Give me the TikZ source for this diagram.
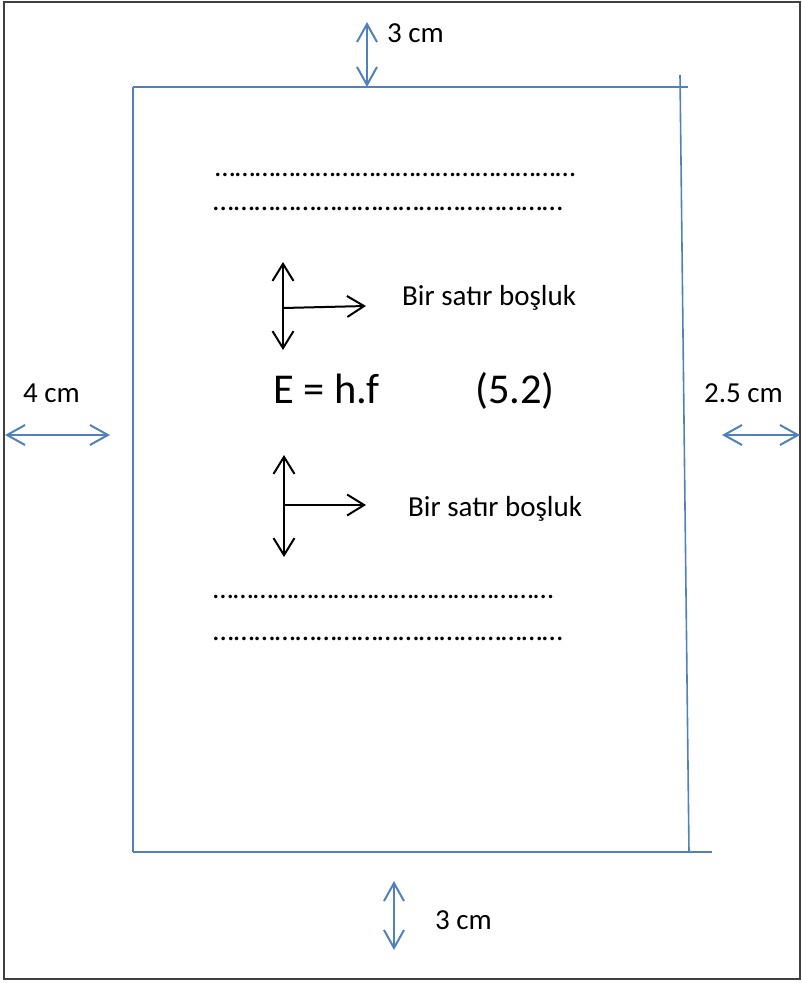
\documentclass[tikz,border=0pt]{standalone}
\usepackage{fontspec}
\setmainfont{Carlito}
\usetikzlibrary{arrows.meta}
\definecolor{wblue}{RGB}{79,129,189}
\newcommand\ellrun[1]{\foreach \k in {1,...,#1}{…}}
\tikzset{
  bluearr/.style={draw=wblue, line width=2pt, {Straight Barb[length=18pt,width=20pt,line width=2pt]}-{Straight Barb[length=18pt,width=20pt,line width=2pt]}},
  blackarr/.style={draw=black, line width=2pt, {Straight Barb[length=17pt,width=21pt,line width=2pt]}-{Straight Barb[length=17pt,width=21pt,line width=2pt]}},
  blackone/.style={draw=black, line width=2pt, -{Straight Barb[length=17pt,width=21pt,line width=2pt]}},
  pageline/.style={draw=wblue, line width=1.6pt},
  lbl/.style={anchor=base west, inner sep=0pt, font=\fontsize{29}{34}\selectfont},
  widedots/.style={lbl, font=\fontsize{29.8}{34}\selectfont},
  eqn/.style={anchor=base west, inner sep=0pt, font=\fontsize{42.5}{50}\selectfont},
}
\begin{document}
\begin{tikzpicture}[x=1pt,y=-1pt]
\useasboundingbox (0,0) rectangle (801,983);
% outer frame
\draw[line width=1.2pt, draw=black!75] (4,2) rectangle (800,979);
% page lines
\draw[pageline] (133,87) -- (688,87);
\draw[pageline] (133,87) -- (133,852);
\draw[pageline] (133,852) -- (712,852);
\draw[pageline] (680,75) -- (689,852);
% margin arrows
\coordinate (t1) at (367,22); \coordinate (t2) at (367,87);
\draw[bluearr] (t1) -- (t2);
\node[lbl] (tl) at (387,42) {3 cm};
\coordinate (b1) at (394,881); \coordinate (b2) at (394,950);
\draw[bluearr] (b1) -- (b2);
\node[lbl] (bl) at (435,929) {3 cm};
\coordinate (l1) at (5,435); \coordinate (l2) at (110,435);
\draw[bluearr] (l1) -- (l2);
\node[lbl] (ll) at (23,402) {4 cm};
\coordinate (r1) at (722,435); \coordinate (r2) at (800,435);
\draw[bluearr] (r1) -- (r2);
\node[lbl] (rl) at (704,402) {2.5 cm};
% dotted lines
\node[lbl] (d1) at (215,176) {\ellrun{18}};
\node[widedots] (d2) at (213,210) {\ellrun{17}};
\node[lbl] (d3) at (213,598) {\ellrun{17}};
\node[widedots] (d4) at (213,640) {\ellrun{17}};
% first spacing arrows
\coordinate (a1) at (283,262); \coordinate (a2) at (283,350);
\coordinate (a3) at (283,308); \coordinate (a4) at (366,306);
\draw[blackarr] (a1) -- (a2);
\draw[blackone] (a3) -- (a4);
\node[lbl] (s1) at (402,305) {Bir satır boşluk};
% equation
\node[eqn] (eq) at (273,403) {E = h.f};
\node[eqn] (eqno) at (475,403) {(5.2)};
% second spacing arrows
\coordinate (c1) at (284,455); \coordinate (c2) at (284,557);
\coordinate (c3) at (284,505); \coordinate (c4) at (366,505);
\draw[blackarr] (c1) -- (c2);
\draw[blackone] (c3) -- (c4);
\node[lbl] (s2) at (408,516) {Bir satır boşluk};
\end{tikzpicture}
\end{document}
